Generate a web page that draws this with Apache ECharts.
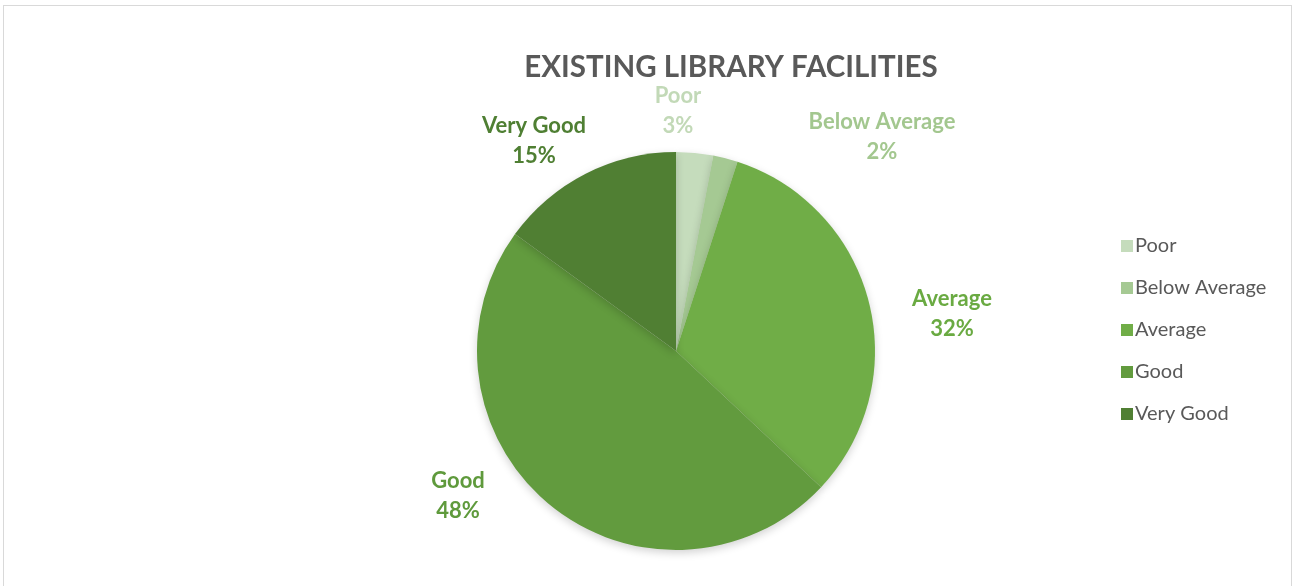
<!DOCTYPE html>
<html>
<head>
<meta charset="utf-8">
<script src="https://cdn.jsdelivr.net/npm/echarts@6/dist/echarts.min.js"></script>
<style>
  html, body { margin: 0; padding: 0; background: #fff; }
  #frame { position: absolute; left: 3px; top: 5px; width: 1287px; height: 620px; border: 1px solid #d9d9d9; }
  #c { position: absolute; left: 0; top: 0; width: 1296px; height: 586px; }
</style>
</head>
<body>
<div id="frame"></div>
<div id="c"></div>
<script>
// data
const categories = ['Poor', 'Below Average', 'Average', 'Good', 'Very Good']
const shares = [3, 2, 32, 48, 15]

// style
const sliceColors = ['#c5dcbc', '#a5c993', '#70ad47', '#629b3e', '#507f33']
const labelColors = ['#c2d9b7', '#a3c78f', '#6aaa42', '#5f9a3c', '#4f7f33']
const pieCenter = [676, 351]
const pieRadius = 199
// label offsets from the pie centre (Excel places them by hand)
const labelOffsets = [[2, -240], [206, -214], [276, -37], [-218, 145], [-142, -210]]

const chart = echarts.init(document.getElementById('c'))

const option = {
  animation: false,
  textStyle: { fontFamily: 'Lato, "Open Sans", sans-serif' },
  title: {
    text: 'EXISTING LIBRARY FACILITIES',
    left: 726,
    textAlign: 'center',
    top: 47,
    textStyle: { fontSize: 29.5, fontWeight: 'bold', color: '#595959', fontFamily: 'Lato, sans-serif' },
  },
  legend: {
    orient: 'vertical',
    left: 1116,
    top: 231,
    itemWidth: 12,
    itemHeight: 12,
    itemGap: 22,
    icon: 'rect',
    data: categories,
    textStyle: { fontSize: 20, color: '#595959', padding: [0, 0, 0, -3] },
  },
  series: [
    {
      type: 'pie',
      center: pieCenter,
      radius: pieRadius,
      startAngle: 90,
      clockwise: true,
      data: categories.map((name, i) => ({
        name,
        value: shares[i],
        itemStyle: { color: sliceColors[i] },
        label: { color: labelColors[i] },
      })),
      itemStyle: {
        shadowBlur: 8,
        shadowOffsetY: 3,
        shadowColor: 'rgba(0,0,0,0.18)',
      },
      label: {
        show: true,
        position: 'outside',
        formatter: p => `${p.name}\n${p.value}%`,
        fontSize: 22,
        fontWeight: 'bold',
        lineHeight: 30,
        align: 'center',
      },
      labelLine: { show: false },
      labelLayout(params) {
        const off = labelOffsets[params.dataIndex]
        return {
          x: pieCenter[0] + off[0],
          y: pieCenter[1] + off[1],
          align: 'center',
          verticalAlign: 'middle',
        }
      },
      emphasis: { disabled: true },
    },
  ],
}

chart.setOption(option)
</script>
</body>
</html>
